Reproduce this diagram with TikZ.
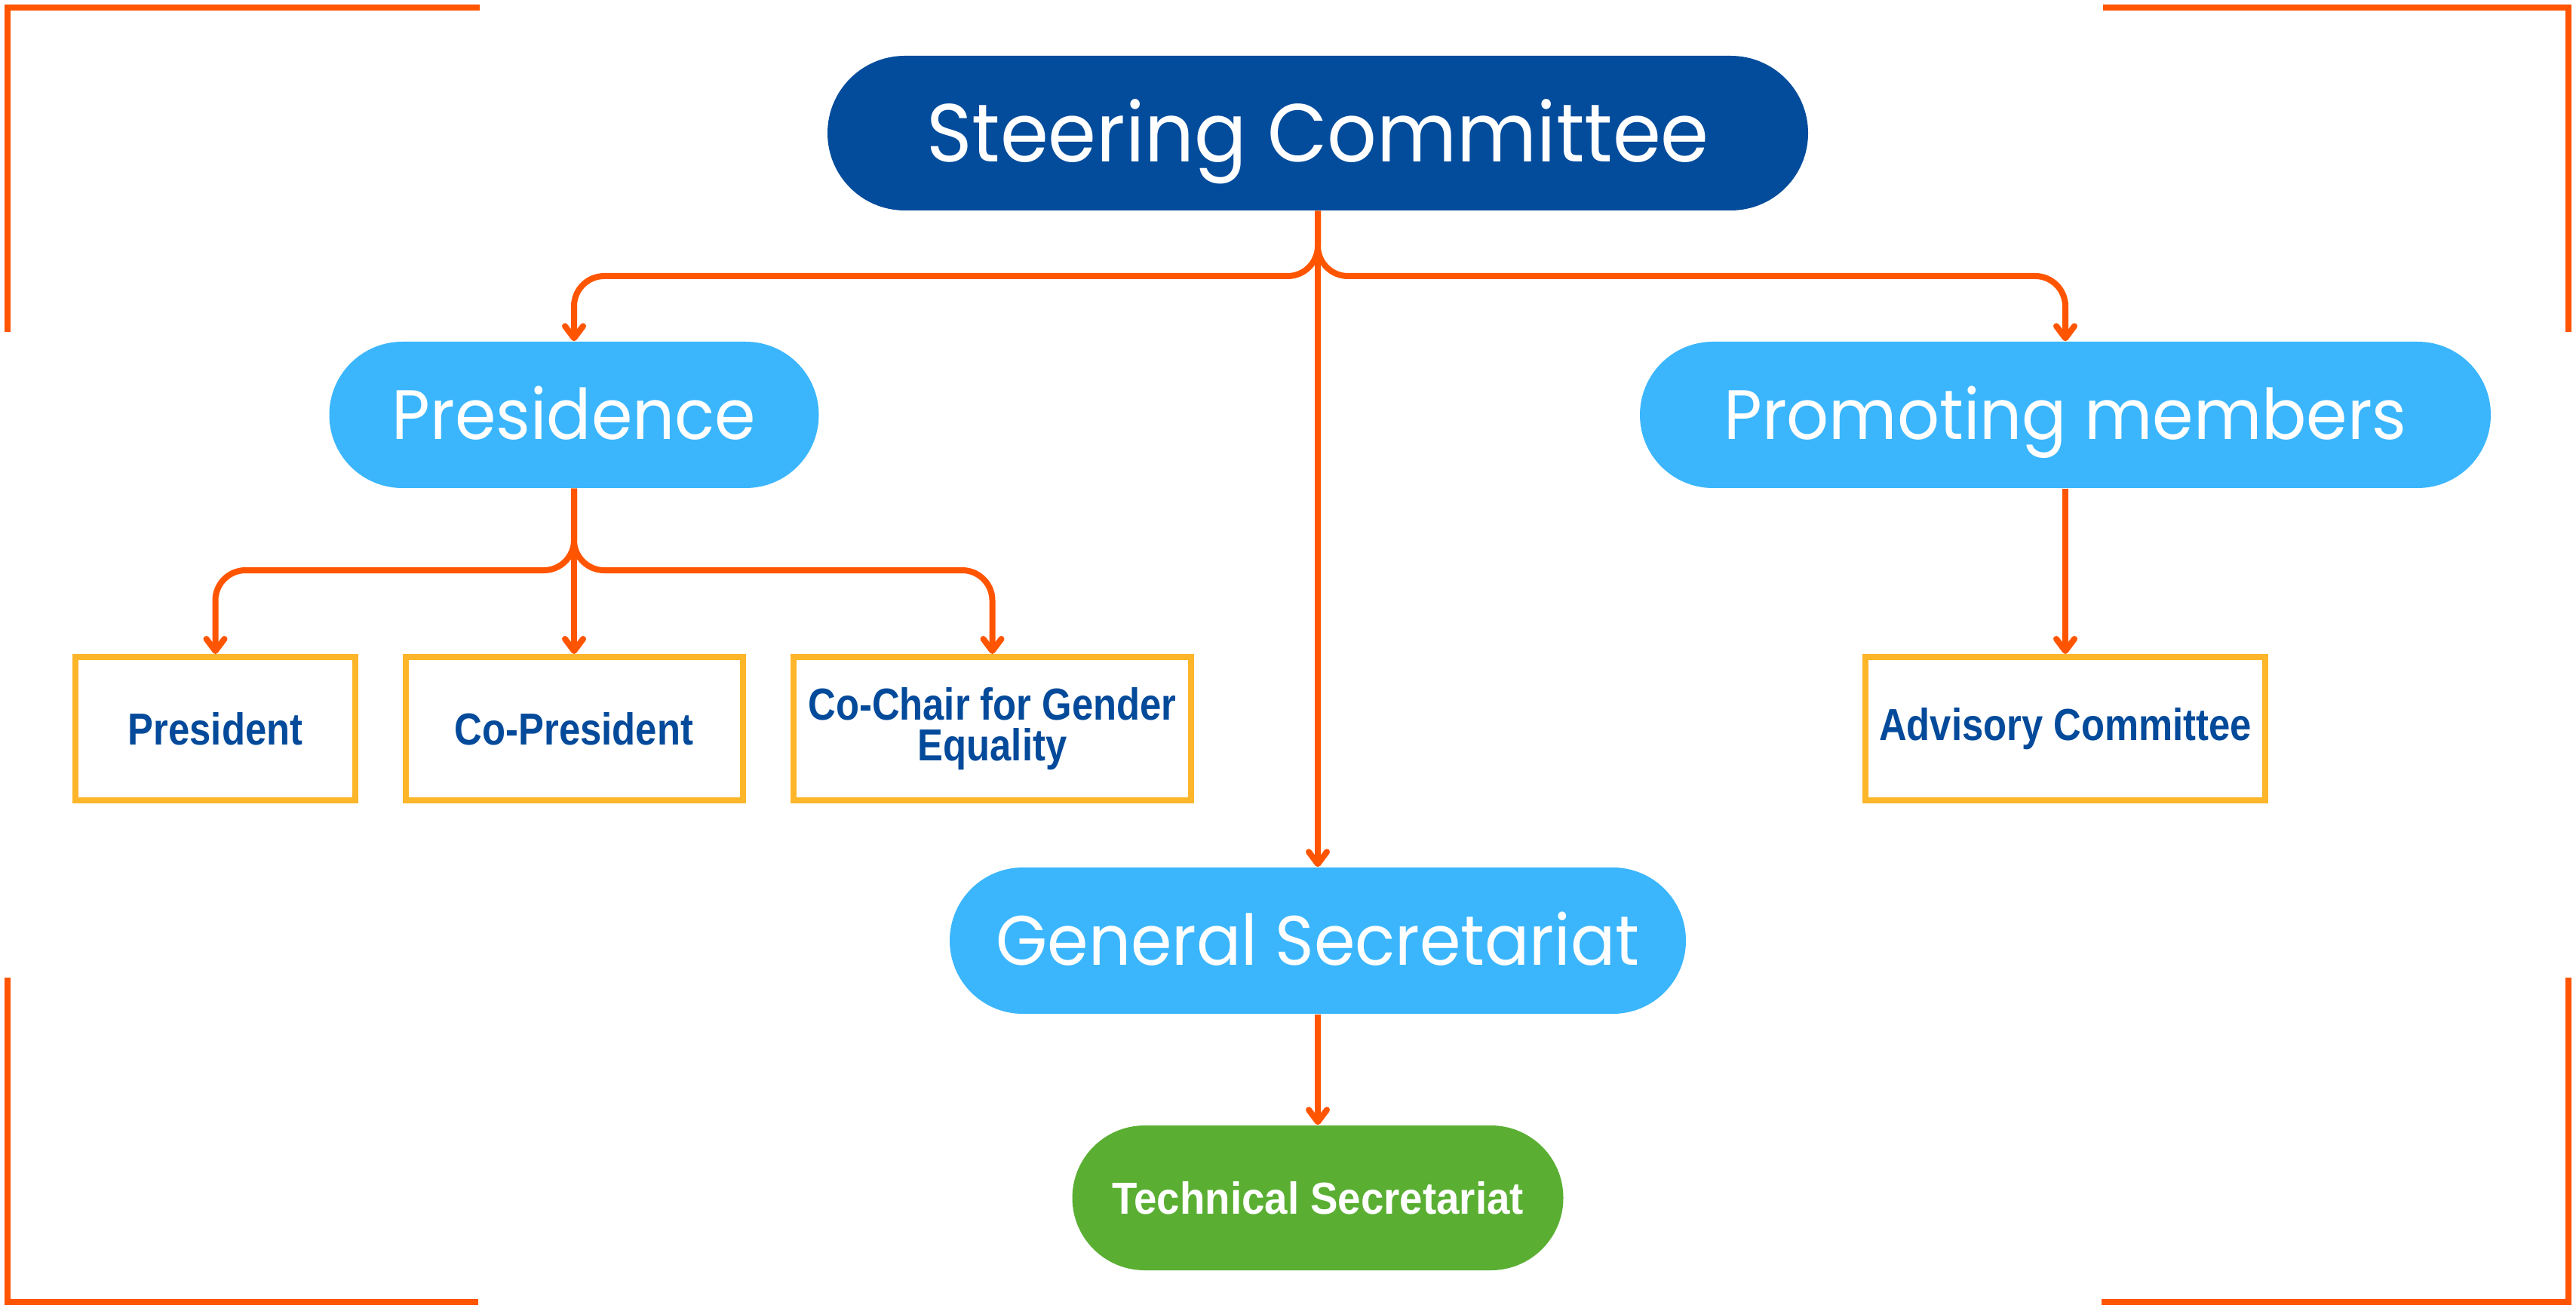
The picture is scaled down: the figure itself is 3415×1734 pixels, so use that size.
\documentclass[tikz,border=0pt]{standalone}
\usepackage{fontspec}
\usetikzlibrary{arrows.meta}
\newfontfamily\bigf[FakeStretch=0.945]{Poppins}
\newfontfamily\smallf[FakeStretch=0.855]{Liberation Sans}
\newfontfamily\techf[FakeStretch=0.92]{Liberation Sans}
\definecolor{navy}{HTML}{034C9C}
\definecolor{sky}{HTML}{3BB6FD}
\definecolor{leaf}{HTML}{5AAF33}
\definecolor{orng}{HTML}{FF5500}
\definecolor{gold}{HTML}{FDB52A}
\definecolor{txtblue}{HTML}{044A9A}
\tikzset{
  pill/.style={rectangle, inner sep=0pt, text=white, align=center},
  bigtext/.style={font=\bigf\fontsize{31pt}{36pt}\selectfont, text height=21.6pt, text depth=0pt},
  midtext/.style={font=\bigf\fontsize{26.4pt}{32pt}\selectfont, text height=18.4pt, text depth=0pt},
  techtext/.style={font=\techf\bfseries\fontsize{16.9pt}{15.4pt}\selectfont, text height=12.1pt, text depth=0pt},
  smalltext/.style={font=\smallf\bfseries\fontsize{16.9pt}{15.4pt}\selectfont},
  smallbox/.style={rectangle, draw=gold, line width=0.8mm, fill=white, inner sep=0pt,
     minimum height=19mm, text=txtblue, align=center, smalltext},
  conn/.style={draw=orng, line width=0.8mm, rounded corners=4mm,
     -{Straight Barb[length=1.6mm, width=2.4mm, round]}},
  bracket/.style={draw=orng, line width=0.8mm}
}
\begin{document}
\begin{tikzpicture}[x=0.1mm, y=-0.1mm]
\useasboundingbox (0,0) rectangle (3415,1734);
% corner brackets
\draw[bracket] (10,440) -- (10,10) -- (636,10);
\draw[bracket] (2788,10) -- (3405,10) -- (3405,440);
\draw[bracket] (10,1296) -- (10,1726) -- (634,1726);
\draw[bracket] (2786,1726) -- (3405,1726) -- (3405,1296);
% nodes
\node[pill, bigtext, fill=navy, minimum width=130mm, minimum height=20.5mm, rounded corners=10.25mm] (sc) at (1747,176.5) {Steering Committee};
\node[pill, midtext, fill=sky, minimum width=64.9mm, minimum height=19.4mm, rounded corners=9.7mm] (pres) at (761,550) {Presidence};
\node[pill, midtext, fill=sky, minimum width=112.8mm, minimum height=19.4mm, rounded corners=9.7mm] (prom) at (2738,550) {Promoting members};
\node[pill, midtext, fill=sky, minimum width=97.6mm, minimum height=19.4mm, rounded corners=9.7mm] (gen) at (1747,1247) {General Secretariat};
\node[pill, techtext, fill=leaf, minimum width=65.1mm, minimum height=19.2mm, rounded corners=9.6mm] (tech) at (1747,1588) {Technical Secretariat};
\node[smallbox, minimum width=37.1mm] (p1) at (285.5,966) {President};
\node[smallbox, minimum width=44.7mm] (p2) at (761,966) {Co-President};
\node[smallbox, minimum width=52.7mm] (p3) at (1315.5,966) {Co-Chair for Gender\\Equality};
\node[smallbox, minimum width=53mm] (adv) at (2738,966) {Advisory Committee};
% connectors
\coordinate (bus1) at (1747,366);
\coordinate (bus2) at (761,756);
\draw[conn] (sc.south) -- (bus1) -| (pres.north);
\draw[conn] (sc.south) -- (bus1) -| (prom.north);
\draw[conn] (sc.south) -- (gen.north);
\draw[conn] (gen.south) -- (tech.north);
\draw[conn] (prom.south) -- (adv.north);
\draw[conn] (pres.south) -- (bus2) -| (p1.north);
\draw[conn] (pres.south) -- (bus2) -| (p3.north);
\draw[conn] (pres.south) -- (p2.north);
\end{tikzpicture}
\end{document}
